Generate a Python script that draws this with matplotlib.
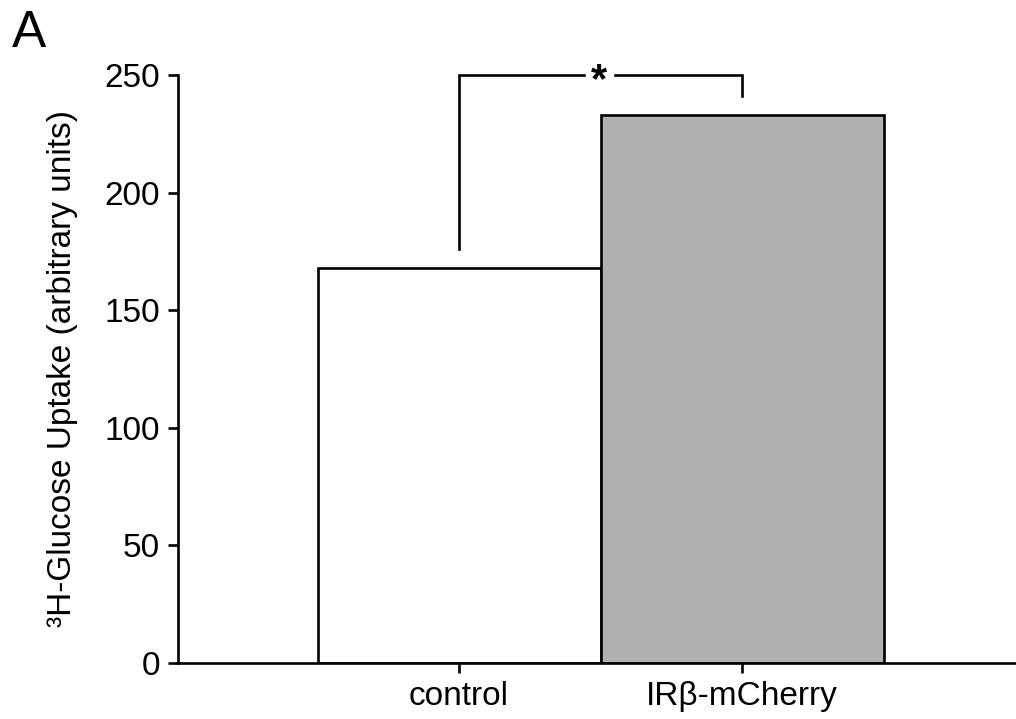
import matplotlib
matplotlib.use("Agg")
import matplotlib.pyplot as plt

plt.rcParams['font.family'] = ['Liberation Sans', 'DejaVu Sans']

# data
categories = ['control', 'IR\u03b2-mCherry']
uptake = [168, 233]
bar_colors = ['white', '#b0b0b0']
# significance bracket: left foot, right foot, top
sig_left, sig_right, sig_top = 176, 241, 250

fig = plt.figure(figsize=(10.16, 7.19), dpi=100)
ax = fig.add_axes([0.1752, 0.0779, 0.8248, 0.8178])

x = list(range(len(categories)))
ax.bar(x, uptake, width=1.0, color=bar_colors, edgecolor='black', linewidth=1.9, zorder=2)

# bracket with a gap for the asterisk
ax.plot([0, 0, 0.44], [sig_left, sig_top, sig_top], color='black', lw=1.9, clip_on=False,
        solid_joinstyle='miter')
ax.plot([0.55, 1, 1], [sig_top, sig_top, sig_right], color='black', lw=1.9, clip_on=False,
        solid_joinstyle='miter')
ax.text(0.495, sig_top - 2.5, '*', ha='center', va='center', fontsize=30, fontweight='bold')

ax.set_xlim(-0.993, 1.968)
ax.set_ylim(0, 250)
ax.set_yticks([0, 50, 100, 150, 200, 250])
ax.set_xticks(x)
ax.set_xticklabels(categories)

ax.spines['top'].set_visible(False)
ax.spines['right'].set_visible(False)
ax.spines['left'].set_linewidth(1.9)
ax.spines['bottom'].set_linewidth(1.9)
ax.tick_params(axis='both', direction='out', length=7, width=1.9, labelsize=24, pad=6)

ax.set_ylabel('\u00b3H-Glucose Uptake (arbitrary units)', fontsize=24, labelpad=19)

fig.text(0.012, 0.935, 'A', fontsize=37)

fig.savefig('out.png', dpi=100)
